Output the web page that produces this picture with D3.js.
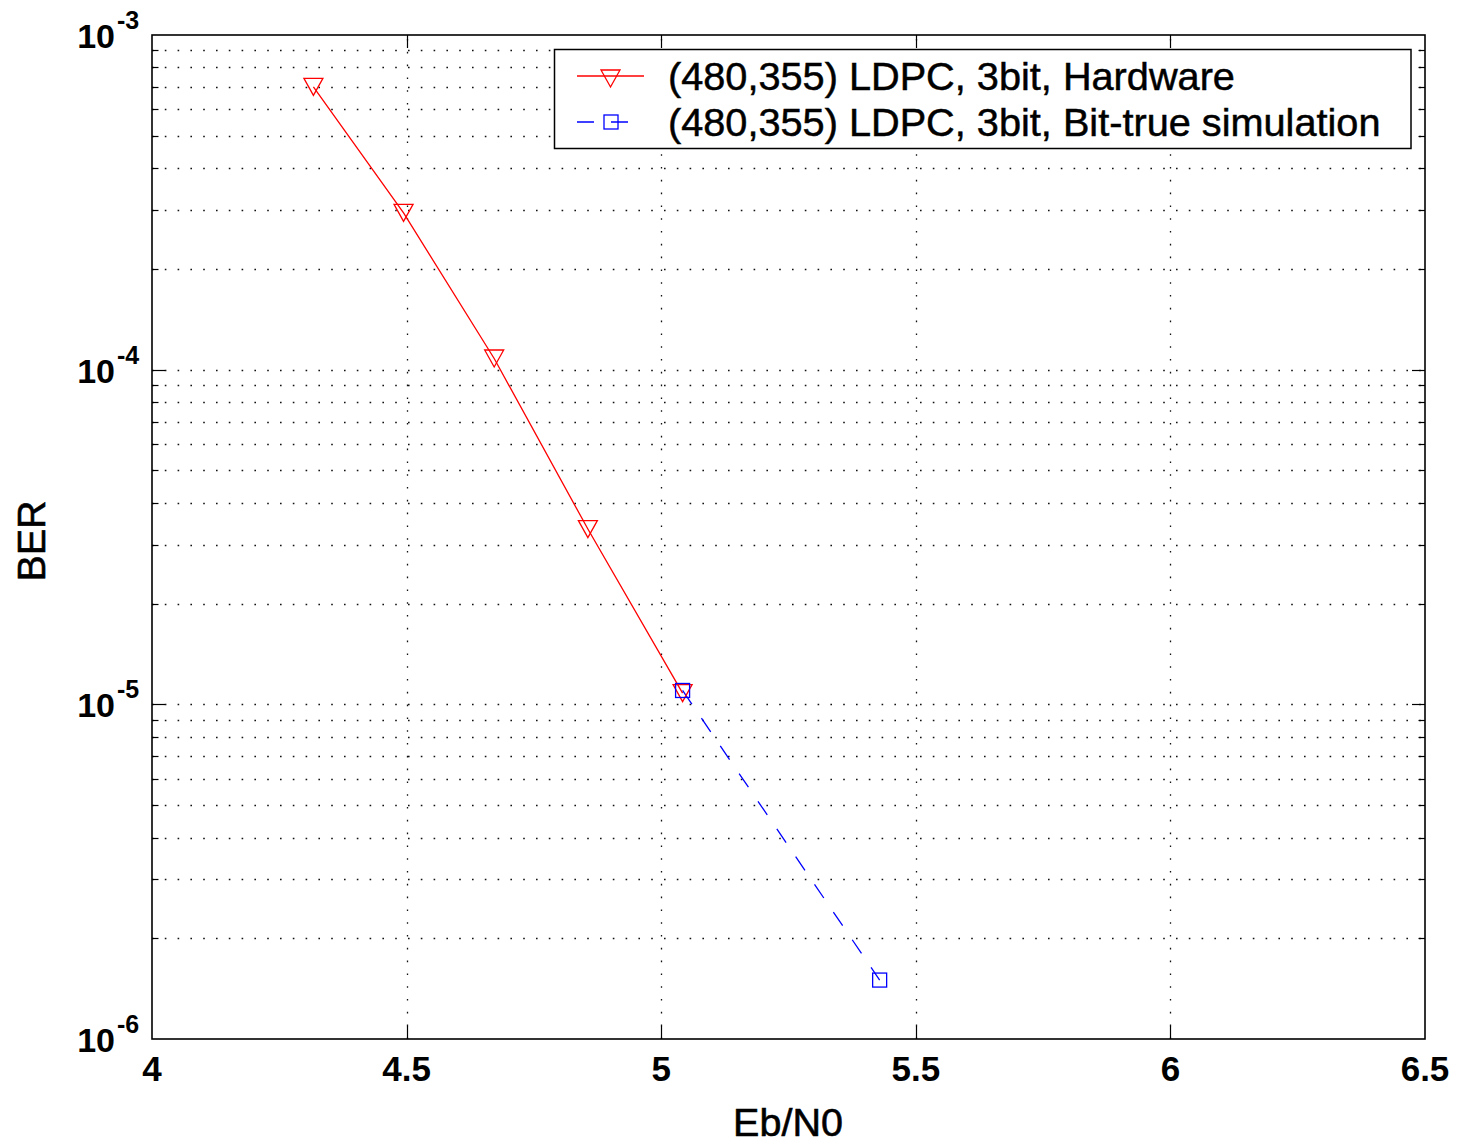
<!DOCTYPE html>
<html>
<head>
<meta charset="utf-8">
<script src="https://cdn.jsdelivr.net/npm/d3@7"></script>
<style>
  html, body { margin: 0; padding: 0; background: #fff; }
  svg { display: block; }
  text { font-family: "Liberation Sans", Arial, Helvetica, sans-serif; }
</style>
</head>
<body>
<svg id="chart" width="1457" height="1145"></svg>
<script>
// BER curves of the (480,355) LDPC decoder, 3-bit quantisation
const hwEbN0  = [4.317, 4.494, 4.672, 4.856, 5.042];
const hwBER   = [7.0e-4, 2.94e-4, 1.08e-4, 3.34e-5, 1.08e-5];
const simEbN0 = [5.042, 5.429];
const simBER  = [1.10e-5, 1.50e-6];

const seriesNames = [
  "(480,355) LDPC, 3bit, Hardware",
  "(480,355) LDPC, 3bit, Bit-true simulation"
];
const xTickValues = [4, 4.5, 5, 5.5, 6, 6.5];
const xTickLabels = ["4", "4.5", "5", "5.5", "6", "6.5"];
const yDecades = [1e-6, 1e-5, 1e-4, 1e-3];
const yExponents = ["-6", "-5", "-4", "-3"];

const W = 1457, H = 1145;
const L = 152, R = 1425, T = 35, B = 1039;

const svg = d3.select("#chart");
const x = d3.scaleLinear().domain([4, 6.5]).range([L, R]);
const y = d3.scaleLog().domain([1e-6, 1e-3]).range([B, T]);

// minor log positions (2..9 within each decade)
const yMinor = [];
for (let e = -6; e < -3; e++) {
  for (let m = 2; m <= 9; m++) yMinor.push(m * Math.pow(10, e));
}
const yAll = yDecades.concat(yMinor);

// dotted grid
const grid = svg.append("g").attr("stroke", "#111").attr("stroke-width", 1.3)
  .attr("stroke-dasharray", "1.6,11.2").attr("fill", "none");
grid.selectAll("line.h").data(yAll.filter(v => v > 1e-6 && v < 1e-3)).join("line")
  .attr("class", "h")
  .attr("x1", L).attr("x2", R)
  .attr("y1", d => Math.round(y(d)) + 0.5).attr("y2", d => Math.round(y(d)) + 0.5);
grid.selectAll("line.v").data(xTickValues.filter(v => v > 4 && v < 6.5)).join("line")
  .attr("class", "v")
  .attr("x1", d => Math.round(x(d)) + 0.5).attr("x2", d => Math.round(x(d)) + 0.5)
  .attr("y1", B).attr("y2", T);

// inward ticks on all four sides
const ticks = svg.append("g").attr("stroke", "#000").attr("stroke-width", 1.2);
xTickValues.filter(v => v > 4 && v < 6.5).forEach(v => {
  const px = Math.round(x(v)) + 0.5;
  ticks.append("line").attr("x1", px).attr("x2", px).attr("y1", B).attr("y2", B - 13);
  ticks.append("line").attr("x1", px).attr("x2", px).attr("y1", T).attr("y2", T + 13);
});
yAll.filter(v => v > 1e-6 && v < 1e-3).forEach(v => {
  const py = Math.round(y(v)) + 0.5;
  const len = yDecades.includes(v) ? 13 : 6.5;
  ticks.append("line").attr("x1", L).attr("x2", L + len).attr("y1", py).attr("y2", py);
  ticks.append("line").attr("x1", R).attr("x2", R - len).attr("y1", py).attr("y2", py);
});

// axes box
svg.append("rect").attr("x", L).attr("y", T).attr("width", R - L).attr("height", B - T)
  .attr("fill", "none").attr("stroke", "#000").attr("stroke-width", 1.6);

// x tick labels
svg.append("g").selectAll("text").data(xTickValues).join("text")
  .attr("x", d => x(d)).attr("y", 1081)
  .attr("text-anchor", "middle")
  .attr("font-size", 35).attr("font-weight", "bold")
  .text((d, i) => xTickLabels[i]);

// y tick labels: 10 with superscript exponent
const yl = svg.append("g").selectAll("g").data(yDecades).join("g")
  .attr("transform", d => `translate(0,${y(d)})`);
yl.append("text").attr("x", 115).attr("y", 13).attr("text-anchor", "end")
  .attr("font-size", 34).attr("font-weight", "bold").text("10");
yl.append("text").attr("x", 117).attr("y", -6).attr("text-anchor", "start")
  .attr("font-size", 25).attr("font-weight", "bold").text((d, i) => yExponents[i]);

// axis titles
const titleStyle = s => s.attr("font-size", 39.5).attr("stroke", "#000").attr("stroke-width", 0.6);
svg.append("text").attr("x", 788).attr("y", 1136).attr("text-anchor", "middle")
  .call(titleStyle).text("Eb/N0");
svg.append("text").attr("transform", "translate(45,541) rotate(-90)")
  .attr("text-anchor", "middle").call(titleStyle).text("BER");

// series
const line = d3.line().x(d => x(d[0])).y(d => y(d[1]));
const hw = hwEbN0.map((v, i) => [v, hwBER[i]]);
const sim = simEbN0.map((v, i) => [v, simBER[i]]);

const plot = svg.append("g");
plot.append("path").datum(hw).attr("d", line)
  .attr("fill", "none").attr("stroke", "#ff0000").attr("stroke-width", 1.3);
plot.append("path").datum(sim).attr("d", line)
  .attr("fill", "none").attr("stroke", "#0000ff").attr("stroke-width", 1.3)
  .attr("stroke-dasharray", "16.5,17");

// down-pointing triangle marker, bounding box centred on the point
const triPath = (cx, cy) => {
  const w = 19, h = 17;
  return `M${cx - w / 2},${cy - h / 2}L${cx + w / 2},${cy - h / 2}L${cx},${cy + h / 2}Z`;
};
plot.selectAll("path.tri").data(hw).join("path").attr("class", "tri")
  .attr("d", d => triPath(x(d[0]), y(d[1])))
  .attr("fill", "none").attr("stroke", "#ff0000").attr("stroke-width", 1.3);
plot.selectAll("rect.sq").data(sim).join("rect").attr("class", "sq")
  .attr("x", d => x(d[0]) - 7).attr("y", d => y(d[1]) - 7)
  .attr("width", 14).attr("height", 14)
  .attr("fill", "none").attr("stroke", "#0000ff").attr("stroke-width", 1.3);

// legend
const lg = svg.append("g");
lg.append("rect").attr("x", 554.5).attr("y", 49.5).attr("width", 856.5).attr("height", 99)
  .attr("fill", "#fff").attr("stroke", "#000").attr("stroke-width", 1.5);
const rows = [76, 122];
lg.append("line").attr("x1", 577).attr("x2", 644).attr("y1", rows[0]).attr("y2", rows[0])
  .attr("stroke", "#ff0000").attr("stroke-width", 1.3);
lg.append("path").attr("d", triPath(610.5, rows[0] + 2.5))
  .attr("fill", "none").attr("stroke", "#ff0000").attr("stroke-width", 1.3);
lg.append("line").attr("x1", 577).attr("x2", 628).attr("y1", rows[1]).attr("y2", rows[1])
  .attr("stroke", "#0000ff").attr("stroke-width", 1.3).attr("stroke-dasharray", "17,17");
lg.append("rect").attr("x", 604).attr("y", rows[1] - 7).attr("width", 14).attr("height", 14)
  .attr("fill", "none").attr("stroke", "#0000ff").attr("stroke-width", 1.3);
lg.selectAll("text").data(seriesNames).join("text")
  .attr("x", 668).attr("y", (d, i) => rows[i] + 14)
  .attr("font-size", 39.7).attr("stroke", "#000").attr("stroke-width", 0.5)
  .text(d => d);
</script>
</body>
</html>
